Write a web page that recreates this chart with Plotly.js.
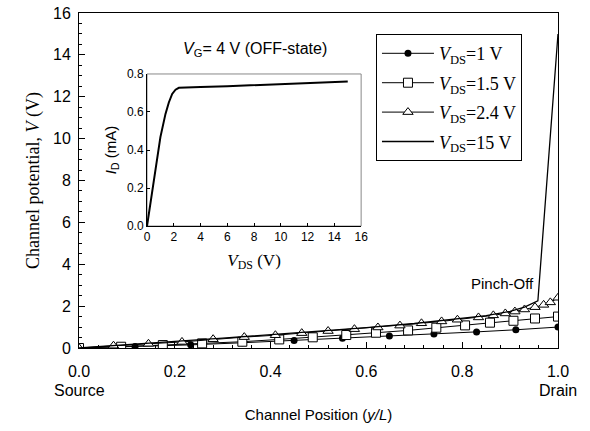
<!DOCTYPE html>
<html>
<head>
<meta charset="utf-8">
<script src="https://cdn.plot.ly/plotly-3.0.1.min.js"></script>
<style>html,body{margin:0;padding:0;background:#fff;}#chart{width:590px;height:431px;}</style>
</head>
<body>
<div id="chart"></div>
<script>
// Main chart: channel potential vs channel position
const pos1 = [0, 0.117, 0.233, 0.341, 0.449, 0.55, 0.648, 0.741, 0.83, 0.912, 1.0];
const v1 = [0, 0.07, 0.15, 0.25, 0.36, 0.46, 0.57, 0.67, 0.77, 0.87, 1.0];

const pos15 = [0, 0.088, 0.175, 0.257, 0.341, 0.418, 0.488, 0.558, 0.62, 0.687, 0.746, 0.806, 0.858, 0.907, 0.952, 1.0];
const v15 = [0, 0.06, 0.14, 0.22, 0.30, 0.41, 0.51, 0.62, 0.73, 0.84, 0.97, 1.08, 1.21, 1.30, 1.41, 1.5];

const pos24 = [0, 0.072, 0.145, 0.215, 0.28, 0.345, 0.41, 0.465, 0.52, 0.575, 0.624, 0.67, 0.715, 0.757, 0.79, 0.834, 0.865, 0.89, 0.91, 0.93, 0.952, 0.97, 0.984, 1.0];
const v24 = [0, 0.11, 0.2, 0.29, 0.42, 0.52, 0.61, 0.71, 0.81, 0.9, 0.98, 1.07, 1.18, 1.27, 1.35, 1.46, 1.56, 1.65, 1.74, 1.84, 1.95, 2.06, 2.18, 2.4];

const posHigh = [0, 0.1, 0.2, 0.3, 0.4, 0.5, 0.6, 0.7, 0.8, 0.85, 0.9, 0.93, 0.958, 1.0];
const vHigh = [0, 0.17, 0.32, 0.47, 0.63, 0.79, 0.97, 1.17, 1.40, 1.55, 1.75, 1.95, 2.25, 15];

// Inset: drain current vs drain voltage
const insetVds = [0, 0.25, 0.5, 0.75, 1.0, 1.38, 1.63, 1.88, 2.13, 2.38, 2.6, 4, 6, 8, 10, 12, 14, 15];
const insetId = [0, 0.115, 0.238, 0.36, 0.468, 0.59, 0.65, 0.695, 0.717, 0.727, 0.728, 0.731, 0.736, 0.741, 0.746, 0.751, 0.757, 0.76];

const names = ['<i>V</i><sub>DS</sub>=1 V', '<i>V</i><sub>DS</sub>=1.5 V', '<i>V</i><sub>DS</sub>=2.4 V', '<i>V</i><sub>DS</sub>=15 V'];

const sans = 'Liberation Sans, Arial, sans-serif';
const serif = 'Liberation Serif, Times New Roman, serif';

const traces = [
  {x: pos1, y: v1, name: names[0], mode: 'lines+markers', legendgroup: 'a',
   line: {color: '#000', width: 1}, marker: {symbol: 'circle', size: 7, color: '#000'}},
  {x: pos15, y: v15, name: names[1], mode: 'lines+markers', legendgroup: 'b',
   line: {color: '#000', width: 1}, marker: {symbol: 'square', size: 9, color: '#fff', line: {color: '#000', width: 1}}},
  {x: pos24, y: v24, name: names[2], mode: 'lines+markers', legendgroup: 'c',
   line: {color: '#000', width: 1}, marker: {symbol: 'triangle-up', size: 9, color: '#fff', line: {color: '#000', width: 1}}},
  {x: posHigh, y: vHigh, name: names[3], mode: 'lines', legendgroup: 'd',
   line: {color: '#000', width: 1.3}},
  {x: insetVds, y: insetId, mode: 'lines', xaxis: 'x2', yaxis: 'y2', showlegend: false,
   line: {color: '#000', width: 2}}
];

const layout = {
  width: 590, height: 431,
  margin: {l: 79, r: 32, t: 13, b: 83},
  paper_bgcolor: '#fff', plot_bgcolor: 'rgba(0,0,0,0)',
  showlegend: true,
  legend: {
    x: 0.62, y: 0.937, xanchor: 'left', yanchor: 'top',
    bgcolor: '#fff', bordercolor: '#000', borderwidth: 1,
    font: {family: serif, size: 18, color: '#000'},
    traceorder: 'grouped', tracegroupgap: 3, itemwidth: 52
  },
  xaxis: {
    domain: [0, 1], range: [0, 1], dtick: 0.2, tickformat: '.1f',
    ticks: 'inside', ticklen: 6, tickcolor: '#000',
    minor: {dtick: 0.04, ticks: 'inside', ticklen: 3, tickcolor: '#000'},
    showline: true, linecolor: '#000', linewidth: 1, mirror: true,
    showgrid: false, zeroline: false, ticklabelstandoff: 9,
    tickfont: {family: sans, size: 16, color: '#000'},
    title: {text: 'Channel Position (<i>y/L</i>)', font: {family: sans, size: 15, color: '#000'}, standoff: 30}
  },
  yaxis: {
    domain: [0, 1], range: [0, 16], dtick: 2,
    ticks: 'inside', ticklen: 6, tickcolor: '#000',
    minor: {dtick: 0.5, ticks: 'inside', ticklen: 3, tickcolor: '#000'},
    showline: true, linecolor: '#000', linewidth: 1, mirror: true,
    showgrid: false, zeroline: false, ticklabelstandoff: 4,
    tickfont: {family: sans, size: 16, color: '#000'},
    title: {text: 'Channel potential, <i>V</i> (V)', font: {family: serif, size: 18, color: '#000'}, standoff: 8}
  },
  xaxis2: {
    domain: [0.142, 0.589], anchor: 'y2', range: [0, 16], dtick: 2,
    ticks: 'inside', ticklen: 3, tickcolor: '#000',
    showline: true, linecolor: '#000', linewidth: 1,
    showgrid: false, zeroline: false,
    tickfont: {family: sans, size: 12, color: '#000'},
    title: {text: '<i>V</i><sub>DS</sub> (V)', font: {family: serif, size: 17, color: '#000'}, standoff: 10}
  },
  yaxis2: {
    domain: [0.364, 0.818], anchor: 'x2', range: [0, 0.8], dtick: 0.2, tickformat: '.1f',
    ticks: 'inside', ticklen: 3, tickcolor: '#000',
    showline: true, linecolor: '#000', linewidth: 1,
    showgrid: false, zeroline: false,
    tickfont: {family: sans, size: 12, color: '#000'},
    title: {text: '<i>I</i><sub>D</sub> (mA)', font: {family: sans, size: 15, color: '#000'}, standoff: 6}
  },
  shapes: [
    {type: 'rect', xref: 'x2 domain', yref: 'y2 domain', x0: 0, x1: 1, y0: 0, y1: 1,
     line: {color: '#888', width: 1}, layer: 'below'}
  ],
  annotations: [
    {text: 'Source', xref: 'x', yref: 'paper', x: 0, y: 0, yshift: -42, xanchor: 'center', yanchor: 'middle',
     showarrow: false, font: {family: sans, size: 16, color: '#000'}},
    {text: 'Drain', xref: 'x', yref: 'paper', x: 1, y: 0, yshift: -42, xanchor: 'center', yanchor: 'middle',
     showarrow: false, font: {family: sans, size: 16, color: '#000'}},
    {text: 'Pinch-Off', xref: 'x', yref: 'y', x: 0.955, y: 3.1, xanchor: 'right', yanchor: 'middle',
     showarrow: false, font: {family: sans, size: 15, color: '#000'}},
    {text: '<i>V</i><sub>G</sub>= 4 V (OFF-state)', xref: 'paper', yref: 'paper', x: 0.367, y: 0.89,
     xanchor: 'center', yanchor: 'middle', showarrow: false, font: {family: sans, size: 16, color: '#000'}}
  ]
};

Plotly.newPlot('chart', traces, layout, {displayModeBar: false, staticPlot: true});
</script>
</body>
</html>
